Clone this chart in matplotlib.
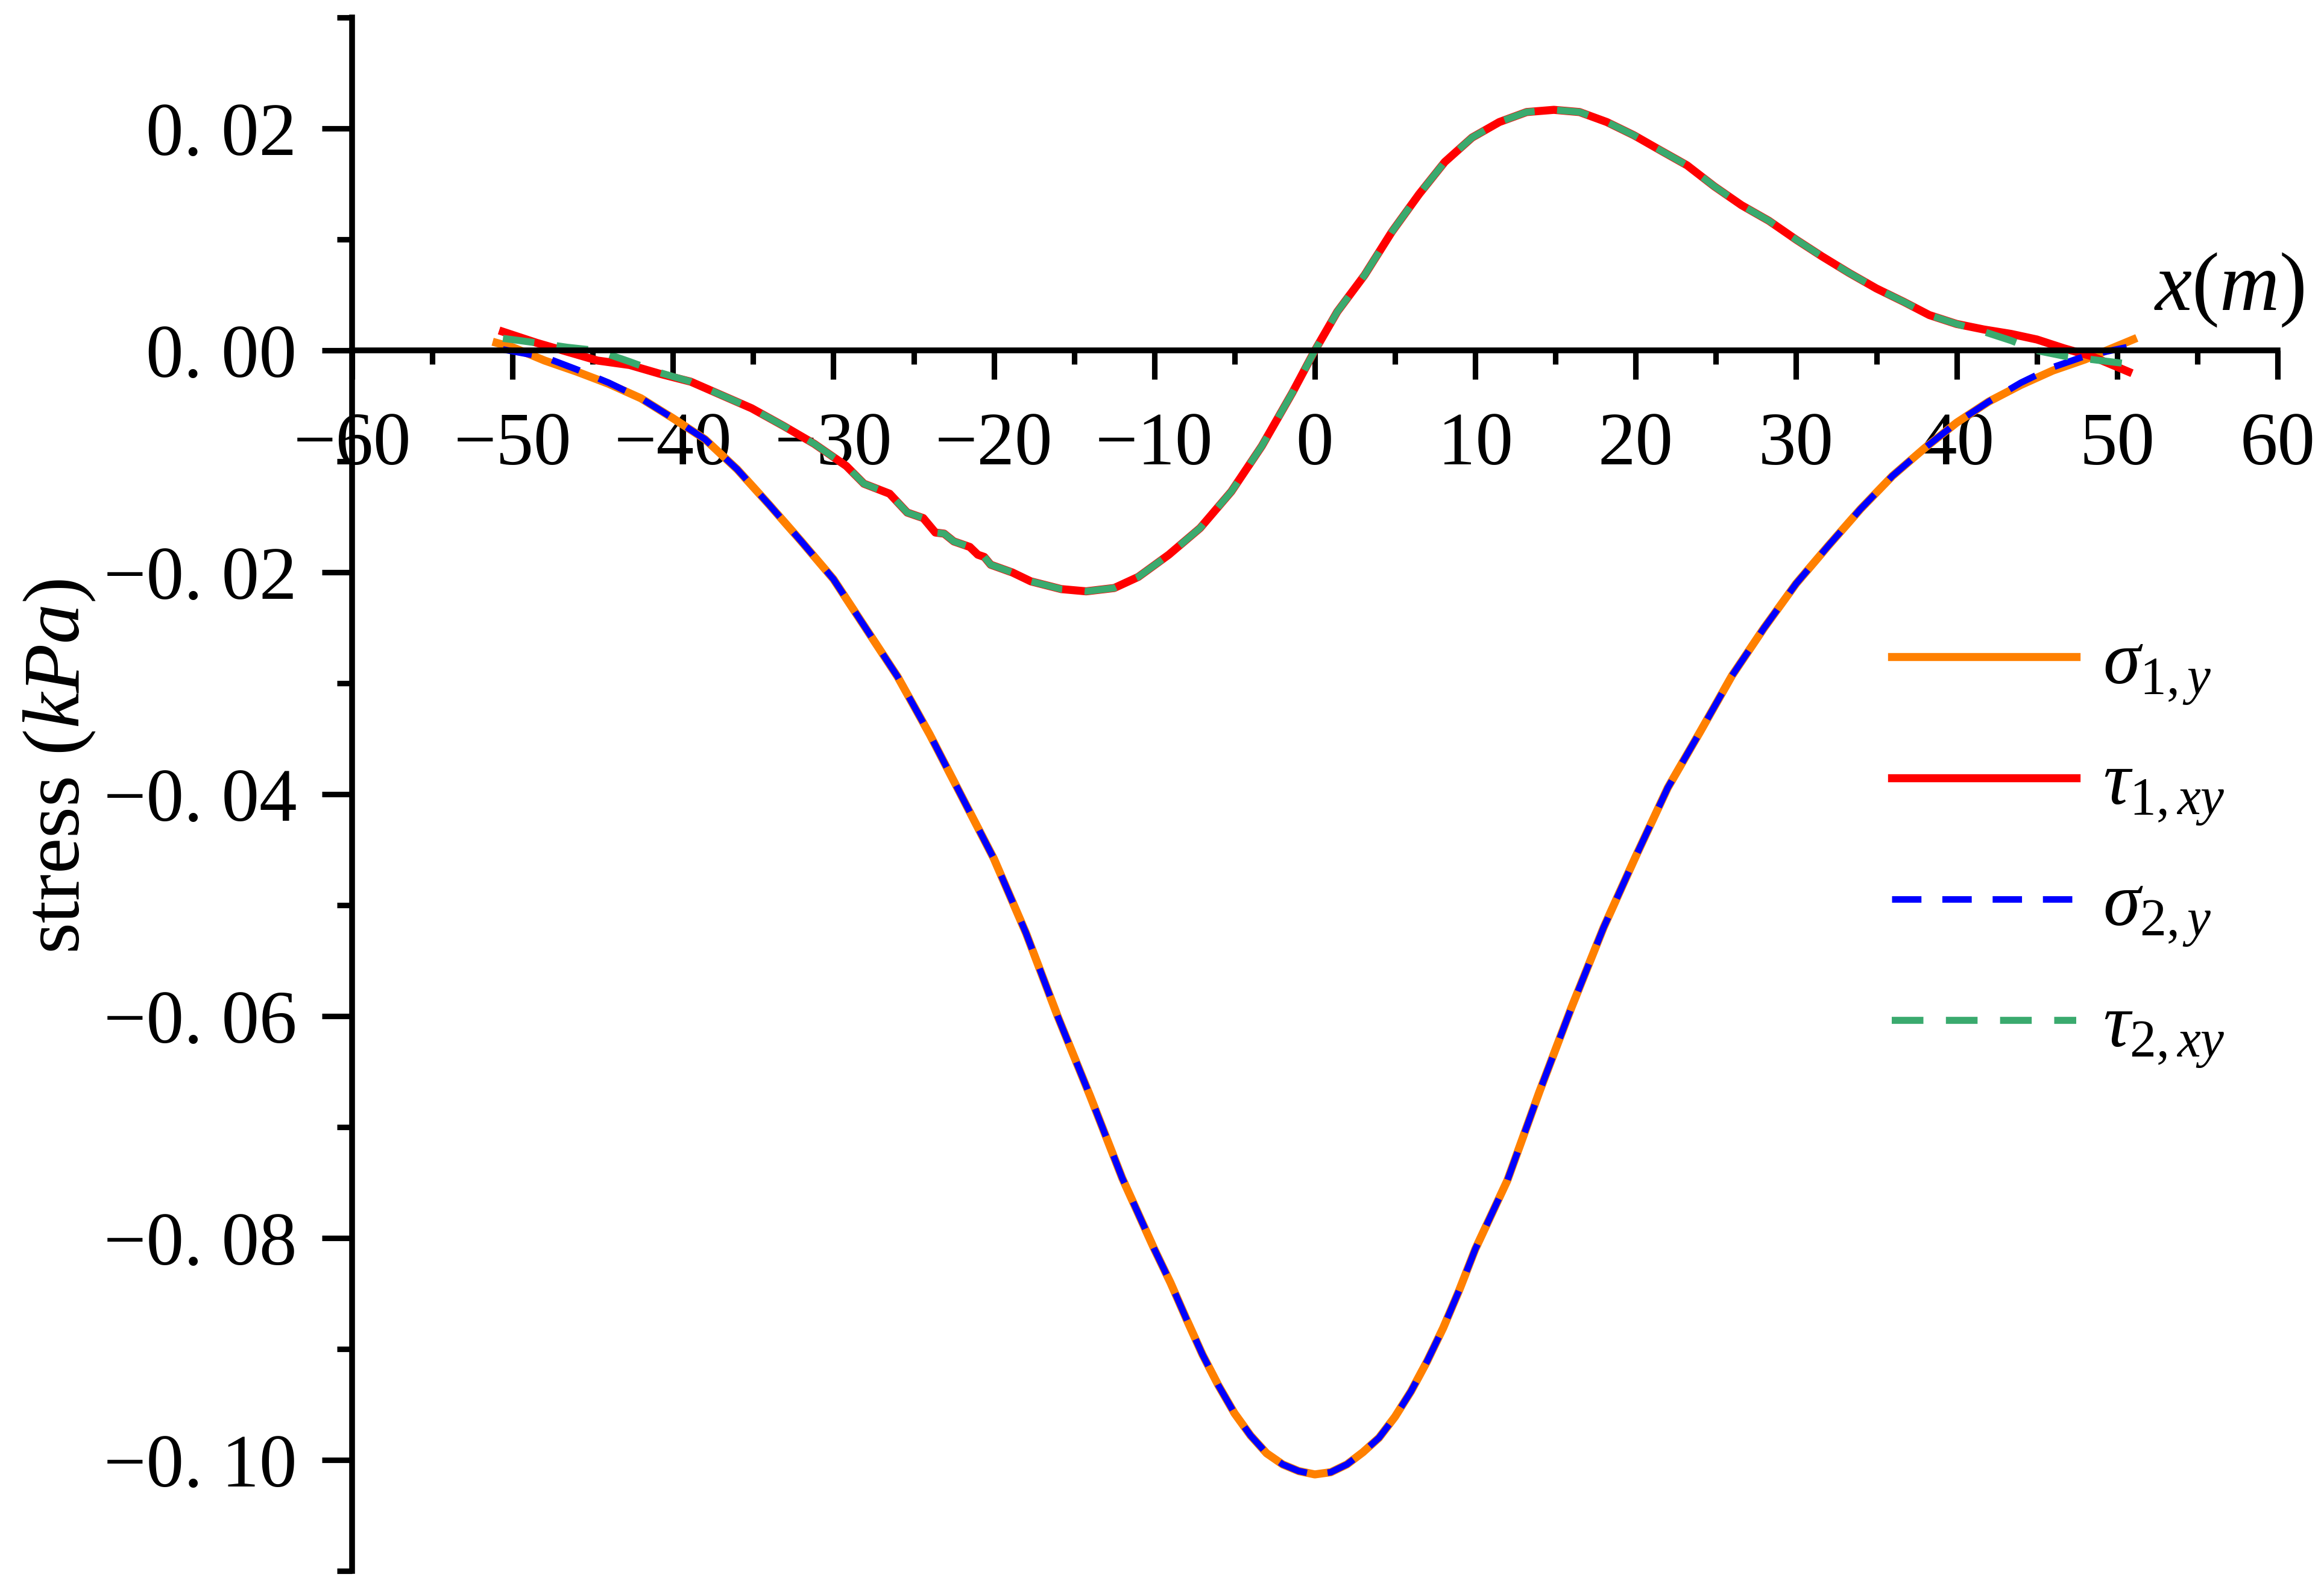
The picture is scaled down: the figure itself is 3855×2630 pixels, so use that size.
import numpy as np
import matplotlib
matplotlib.use("Agg")
import matplotlib.pyplot as plt
from matplotlib.ticker import MultipleLocator, FixedLocator, FixedFormatter

plt.rcParams['font.family'] = 'Liberation Serif'
plt.rcParams['mathtext.fontset'] = 'custom'
plt.rcParams['mathtext.rm'] = 'Liberation Serif'
plt.rcParams['mathtext.it'] = 'Liberation Serif:italic'

# sigma_y curves
x_sig = [-51, -50, -48, -46, -44, -42, -40, -38, -36, -34, -32, -30, -28, -26,
         -24, -22, -20, -18, -16, -14, -12, -10, -9, -8, -7, -6, -5, -4, -3,
         -2, -1, 0, 1, 2, 3, 4, 5, 6, 7, 8, 9, 10, 12, 14, 16, 18, 20, 22, 24,
         26, 28, 30, 32, 34, 36, 38, 40, 42, 44, 46, 48, 50, 51]
sig1 = [0.0007, 0.0003, -0.0009, -0.0019, -0.0030, -0.0043, -0.0061, -0.0080,
        -0.0107, -0.0139, -0.0172, -0.0206, -0.0250, -0.0294, -0.0346, -0.0402,
        -0.0458, -0.0525, -0.0601, -0.0672, -0.0746, -0.0810, -0.0840, -0.0873,
        -0.0905, -0.0933, -0.0958, -0.0978, -0.0994, -0.1004, -0.1010, -0.1013,
        -0.1011, -0.1004, -0.0993, -0.0980, -0.0961, -0.0938, -0.0911, -0.0881,
        -0.0847, -0.0810, -0.0748, -0.0668, -0.0592, -0.0520, -0.0456, -0.0394,
        -0.0344, -0.0293, -0.0250, -0.0210, -0.0176, -0.0143, -0.0113, -0.0088,
        -0.0065, -0.0046, -0.0031, -0.0018, -0.0008, 0.0004, 0.0010]
x_sig2 = [-50.6, -48, -46, -44, -42, -40, -38, -36, -34, -32, -30, -28, -26,
          -24, -22, -20, -18, -16, -14, -12, -10, -9, -8, -7, -6, -5, -4, -3,
          -2, -1, 0, 1, 2, 3, 4, 5, 6, 7, 8, 9, 10, 12, 14, 16, 18, 20, 22, 24,
          26, 28, 30, 32, 34, 36, 38, 40, 42, 44, 46, 48, 50.6]
sig2 = [0.0001, -0.0006, -0.0017, -0.0029, -0.0043, -0.0061, -0.0080,
        -0.0107, -0.0139, -0.0172, -0.0206, -0.0250, -0.0294, -0.0346, -0.0402,
        -0.0458, -0.0525, -0.0601, -0.0672, -0.0746, -0.0810, -0.0840, -0.0873,
        -0.0905, -0.0933, -0.0958, -0.0978, -0.0994, -0.1004, -0.1010, -0.1013,
        -0.1011, -0.1004, -0.0993, -0.0980, -0.0961, -0.0938, -0.0911, -0.0881,
        -0.0847, -0.0810, -0.0748, -0.0668, -0.0592, -0.0520, -0.0456, -0.0394,
        -0.0344, -0.0293, -0.0250, -0.0210, -0.0176, -0.0143, -0.0113, -0.0088,
        -0.0065, -0.0046, -0.0029, -0.0015, -0.0005, 0.0003]

# tau_xy curves
x_tau = [-50.6, -48.5, -46.6, -44.7, -42.7, -40.8, -38.9, -37, -35.1, -33.1,
         -31.2, -29.2, -28.1, -26.5, -25.4, -24.4, -23.65, -23.1, -22.5, -21.5,
         -21.0, -20.6, -20.2, -18.85, -17.7, -15.8, -14.25, -12.5, -11.0, -9.1,
         -7.15, -5.2, -3.3, -1.4, 0, 1.4, 3.1, 4.8, 6.5, 8.1, 9.8, 11.5, 13.2,
         14.9, 16.5, 18.2, 19.9, 21.6, 23.2, 24.9, 26.6, 28.3, 30, 31.6, 33.3,
         35, 36.7, 38.3, 40, 41.7, 43.4, 45, 46.7, 48.4, 50.7]
tau1 = [0.0017, 0.0007, -0.0001, -0.0009, -0.0013, -0.0021, -0.0028, -0.0040,
        -0.0052, -0.0068, -0.0084, -0.0104, -0.0120, -0.0129, -0.0146, -0.0151,
        -0.0164, -0.0165, -0.0172, -0.0177, -0.0184, -0.0186, -0.0193, -0.0200,
        -0.0208, -0.0215, -0.0217, -0.0214, -0.0204, -0.0184, -0.0160, -0.0127,
        -0.0086, -0.0038, 0.0, 0.0035, 0.0068, 0.0107, 0.0141, 0.0170, 0.0192,
        0.0206, 0.0215, 0.0217, 0.0215, 0.0206, 0.0194, 0.0180, 0.0167, 0.0148,
        0.0131, 0.0117, 0.0100, 0.0085, 0.0070, 0.0056, 0.0044, 0.0032, 0.0024,
        0.0019, 0.0015, 0.0010, 0.0002, -0.0005, -0.0019]
tau2 = [0.0011, 0.0007, 0.0003, 0.0000, -0.0010, -0.0020, -0.0028, -0.0040,
        -0.0052, -0.0068, -0.0084, -0.0104, -0.0120, -0.0129, -0.0146, -0.0151,
        -0.0164, -0.0165, -0.0172, -0.0177, -0.0184, -0.0186, -0.0193, -0.0200,
        -0.0208, -0.0215, -0.0217, -0.0214, -0.0204, -0.0184, -0.0160, -0.0127,
        -0.0086, -0.0038, 0.0, 0.0035, 0.0068, 0.0107, 0.0141, 0.0170, 0.0192,
        0.0206, 0.0215, 0.0217, 0.0215, 0.0206, 0.0194, 0.0180, 0.0167, 0.0148,
        0.0131, 0.0117, 0.0100, 0.0085, 0.0070, 0.0056, 0.0044, 0.0032, 0.0024,
        0.0017, 0.0009, 0.0000, -0.0005, -0.0008, -0.0012]

labels = [r'$\sigma_{1,y}$', r'$\tau_{1,xy}$', r'$\sigma_{2,y}$', r'$\tau_{2,xy}$']
colors = ['#FF8000', '#FF0000', '#0000FF', '#3AAA6E']

yticks = [-0.10, -0.08, -0.06, -0.04, -0.02, 0.00, 0.02]
ytick_labels = ['\u22120. 10', '\u22120. 08', '\u22120. 06', '\u22120. 04',
                '\u22120. 02', '0. 00', '0. 02']
xticks = [-60, -50, -40, -30, -20, -10, 0, 10, 20, 30, 40, 50, 60]
xtick_labels = [str(v).replace('-', '\u2212') for v in xticks]

fig = plt.figure(figsize=(12.85, 8.7667), dpi=300)
ax = fig.add_axes([0.1515, 0.0095, 0.8285, 0.9793])

dash = (0, (4.5, 3.2))
ax.plot(x_sig, sig1, color=colors[0], lw=3.2, label=labels[0],
        solid_joinstyle='round')
ax.plot(x_tau, tau1, color=colors[1], lw=3.2, label=labels[1],
        solid_joinstyle='round')
ax.plot(x_sig2, sig2, color=colors[2], lw=2.6, ls=dash, label=labels[2],
        dash_joinstyle='round')
ax.plot(x_tau, tau2, color=colors[3], lw=2.8, ls=dash, label=labels[3],
        dash_joinstyle='round')

ax.set_xlim(-60, 60)
ax.set_ylim(-0.11, 0.03)

ax.spines['top'].set_visible(False)
ax.spines['right'].set_visible(False)
ax.spines['bottom'].set_position(('data', 0))
ax.spines['bottom'].set_linewidth(2.3)
ax.spines['left'].set_linewidth(2.3)

ax.xaxis.set_major_locator(FixedLocator(xticks))
ax.xaxis.set_major_formatter(FixedFormatter(xtick_labels))
ax.xaxis.set_minor_locator(MultipleLocator(5))
ax.yaxis.set_major_locator(FixedLocator(yticks))
ax.yaxis.set_major_formatter(FixedFormatter(ytick_labels))
ax.yaxis.set_minor_locator(MultipleLocator(0.01))

ax.tick_params(axis='x', which='major', direction='out', length=11.5, width=2.2,
               labelsize=30, pad=13)
ax.tick_params(axis='x', which='minor', direction='out', length=5.5, width=2.2)
ax.tick_params(axis='y', which='major', direction='out', length=12, width=2.2,
               labelsize=30, pad=10)
ax.tick_params(axis='y', which='minor', direction='out', length=6, width=2.2)

ax.set_ylabel(r'stress $(kPa)$', fontsize=32)
ax.yaxis.set_label_coords(-0.1325, 0.518)

ax.text(1.014, 0.825, r'$x(m)$', transform=ax.transAxes, fontsize=33,
        ha='right', va='center')

ax.legend(loc='center left', bbox_to_anchor=(0.78, 0.464), frameon=False,
          fontsize=30, handlelength=2.45, handletextpad=0.35, labelspacing=0.6,
          borderpad=0)

fig.savefig('out.png', dpi=300)
